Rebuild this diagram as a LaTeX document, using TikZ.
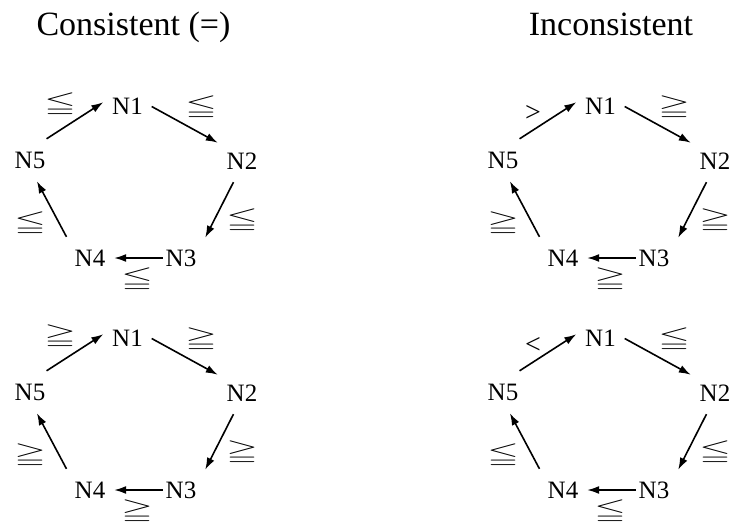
\documentclass[tikz,border=0pt]{standalone}
\usepackage{fontspec}
\setmainfont{Liberation Serif}
\usepackage{amssymb}
\usepackage{graphicx}
\usetikzlibrary{arrows.meta}
\tikzset{
  nd/.style={font=\fontsize{25}{25}\selectfont, inner sep=0pt, minimum width=48pt, minimum height=42pt},
  rel/.style={font=\fontsize{30}{30}\selectfont, inner sep=0pt},
  arr/.style={line width=1.6pt, -{Latex[length=12pt,width=8pt]}},
  head/.style={font=\fontsize{34}{34}\selectfont, anchor=base}
}
\newcommand\myleqq{\scalebox{1.35}[0.78]{$\leqq$}}
\newcommand\mygeqq{\scalebox{1.35}[0.78]{$\geqq$}}
\newcommand\strictrel[1]{\raisebox{-16pt}[0pt][0pt]{\fontsize{28}{28}\selectfont #1}}
\newcommand\ringdiag[8]{%
  \begin{scope}[shift={(#1,#2)}, name prefix=#3-]
    \node[nd] (N1) at (127.5,106.5) {N1};
    \node[nd] (N2) at (242,161) {N2};
    \node[nd] (N3) at (181,258) {N3};
    \node[nd] (N4) at (90,258) {N4};
    \node[nd] (N5) at (30,160) {N5};
    \node[rel] (L1) at (60,105) {#4};
    \node[rel] (L2) at (201,108) {#5};
    \node[rel] (L3) at (242,221) {#6};
    \node[rel] (L4) at (137,280) {#7};
    \node[rel] (L5) at (30,224) {#8};
    \draw[arr] (N5.52) -- (N1.170);
    \draw[arr] (N1.east) -- (N2.143);
    \draw[arr] (N2.-112) -- (N3.40);
    \draw[arr, shorten <=-6pt] (N3.west) -- (N4.east);
    \draw[arr] (N4.138) -- (N5.-72);
  \end{scope}}
\begin{document}
\begin{tikzpicture}[x=1pt, y=-1pt]
  \useasboundingbox (0,0) rectangle (730,523);
  \node[head] (h1) at (133.5,35.5) {Consistent (=)};
  \node[head] (h2) at (611,35.5) {Inconsistent};
  \ringdiag{0}{0}{tl}{\myleqq}{\myleqq}{\myleqq}{\myleqq}{\myleqq}
  \ringdiag{473}{0}{tr}{\strictrel{>}}{\mygeqq}{\mygeqq}{\mygeqq}{\mygeqq}
  \ringdiag{0}{232}{bl}{\mygeqq}{\mygeqq}{\mygeqq}{\mygeqq}{\mygeqq}
  \ringdiag{473}{232}{br}{\strictrel{<}}{\myleqq}{\myleqq}{\myleqq}{\myleqq}
\end{tikzpicture}
\end{document}
